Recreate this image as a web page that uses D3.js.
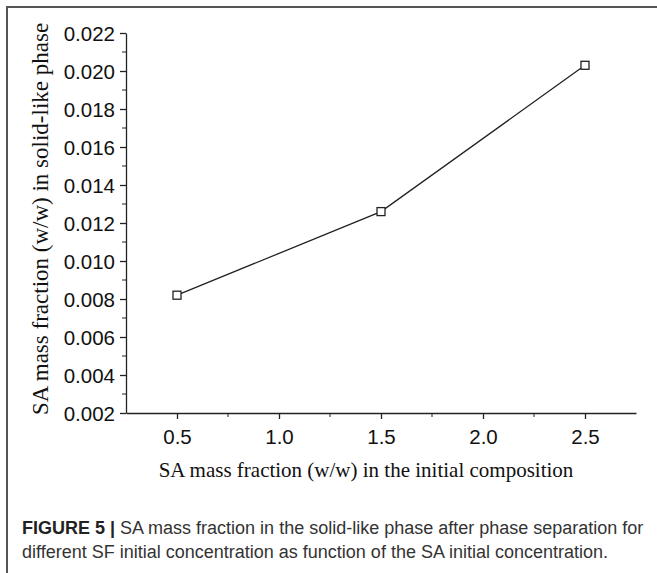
<!DOCTYPE html>
<html>
<head>
<meta charset="utf-8">
<script src="https://cdn.jsdelivr.net/npm/d3@7"></script>
<style>
  body { margin: 0; background: #fff; }
  svg { display: block; }
</style>
</head>
<body>
<script>
// values
const saInitial = [0.5, 1.5, 2.5];
const saSolid = [0.0082, 0.0126, 0.0203];
const xTicks = [0.5, 1.0, 1.5, 2.0, 2.5];
const yTicks = [0.002, 0.004, 0.006, 0.008, 0.010, 0.012, 0.014, 0.016, 0.018, 0.020, 0.022];

const W = 657, H = 573;
const plotLeft = 126, plotRight = 636, plotTop = 33, plotBottom = 413;

const svg = d3.select('body').append('svg')
    .attr('width', W)
    .attr('height', H);

// figure frame (top + left edge visible)
svg.append('path')
    .attr('d', `M7,${H + 5}V7H${W + 5}`)
    .attr('fill', 'none')
    .attr('stroke', '#555')
    .attr('stroke-width', 2);

const x = d3.scaleLinear().domain([0.25, 2.75]).range([plotLeft, plotRight]);
const y = d3.scaleLinear().domain([0.002, 0.022]).range([plotBottom, plotTop]);

// minor ticks
const xMinor = [0.75, 1.25, 1.75, 2.25];
const yMinor = d3.range(0.003, 0.0215, 0.002);

const xAxis = svg.append('g')
    .attr('transform', `translate(0,${plotBottom})`)
    .call(d3.axisBottom(x).tickValues(xTicks).tickFormat(d3.format('.1f')).tickSize(6).tickSizeOuter(0));
xAxis.append('g').selectAll('line').data(xMinor).join('line')
    .attr('x1', d => x(d)).attr('x2', d => x(d))
    .attr('y1', 0).attr('y2', 4)
    .attr('stroke', '#222');

const yAxis = svg.append('g')
    .attr('transform', `translate(${plotLeft},0)`)
    .call(d3.axisLeft(y).tickValues(yTicks).tickFormat(d3.format('.3f')).tickSize(6).tickSizeOuter(0));
yAxis.append('g').selectAll('line').data(yMinor).join('line')
    .attr('y1', d => y(d)).attr('y2', d => y(d))
    .attr('x1', 0).attr('x2', -4)
    .attr('stroke', '#222');

svg.selectAll('.domain, .tick line')
    .attr('stroke', '#222')
    .attr('stroke-width', 1.3);

xAxis.selectAll('.tick text')
    .attr('font-family', 'Liberation Sans, Arial, sans-serif')
    .attr('font-size', 20.5)
    .attr('fill', '#111')
    .attr('dy', '1.05em');
yAxis.selectAll('.tick text')
    .attr('font-family', 'Liberation Sans, Arial, sans-serif')
    .attr('font-size', 20.5)
    .attr('fill', '#111')
    .attr('x', -11)
    .attr('dy', '0.35em');

// axis titles
svg.append('text')
    .attr('x', 366)
    .attr('y', 477)
    .attr('text-anchor', 'middle')
    .attr('font-family', 'Liberation Serif, Times New Roman, serif')
    .attr('font-size', 21)
    .attr('fill', '#111')
    .text('SA mass fraction (w/w) in the initial composition');

svg.append('text')
    .attr('transform', `translate(48,219) rotate(-90)`)
    .attr('text-anchor', 'middle')
    .attr('font-family', 'Liberation Serif, Times New Roman, serif')
    .attr('font-size', 23)
    .attr('fill', '#111')
    .text('SA mass fraction (w/w) in solid-like phase');

// series
const pts = saInitial.map((v, i) => [v, saSolid[i]]);
svg.append('path')
    .datum(pts)
    .attr('d', d3.line().x(d => x(d[0])).y(d => y(d[1])))
    .attr('fill', 'none')
    .attr('stroke', '#222')
    .attr('stroke-width', 1.3);

const s = 8;
svg.selectAll('rect.pt').data(pts).join('rect')
    .attr('class', 'pt')
    .attr('x', d => x(d[0]) - s / 2)
    .attr('y', d => y(d[1]) - s / 2)
    .attr('width', s)
    .attr('height', s)
    .attr('fill', '#fff')
    .attr('stroke', '#222')
    .attr('stroke-width', 1.3);

// caption
const cap = svg.append('g')
    .attr('font-family', 'Liberation Sans, Arial, sans-serif')
    .attr('font-size', 18)
    .attr('fill', '#333');
const line1 = cap.append('text').attr('x', 22).attr('y', 534);
line1.append('tspan').attr('font-weight', 'bold').attr('fill', '#222').text('FIGURE 5 | ');
line1.append('tspan').text('SA mass fraction in the solid-like phase after phase separation for');
cap.append('text').attr('x', 22).attr('y', 558)
    .text('different SF initial concentration as function of the SA initial concentration.');
</script>
</body>
</html>
